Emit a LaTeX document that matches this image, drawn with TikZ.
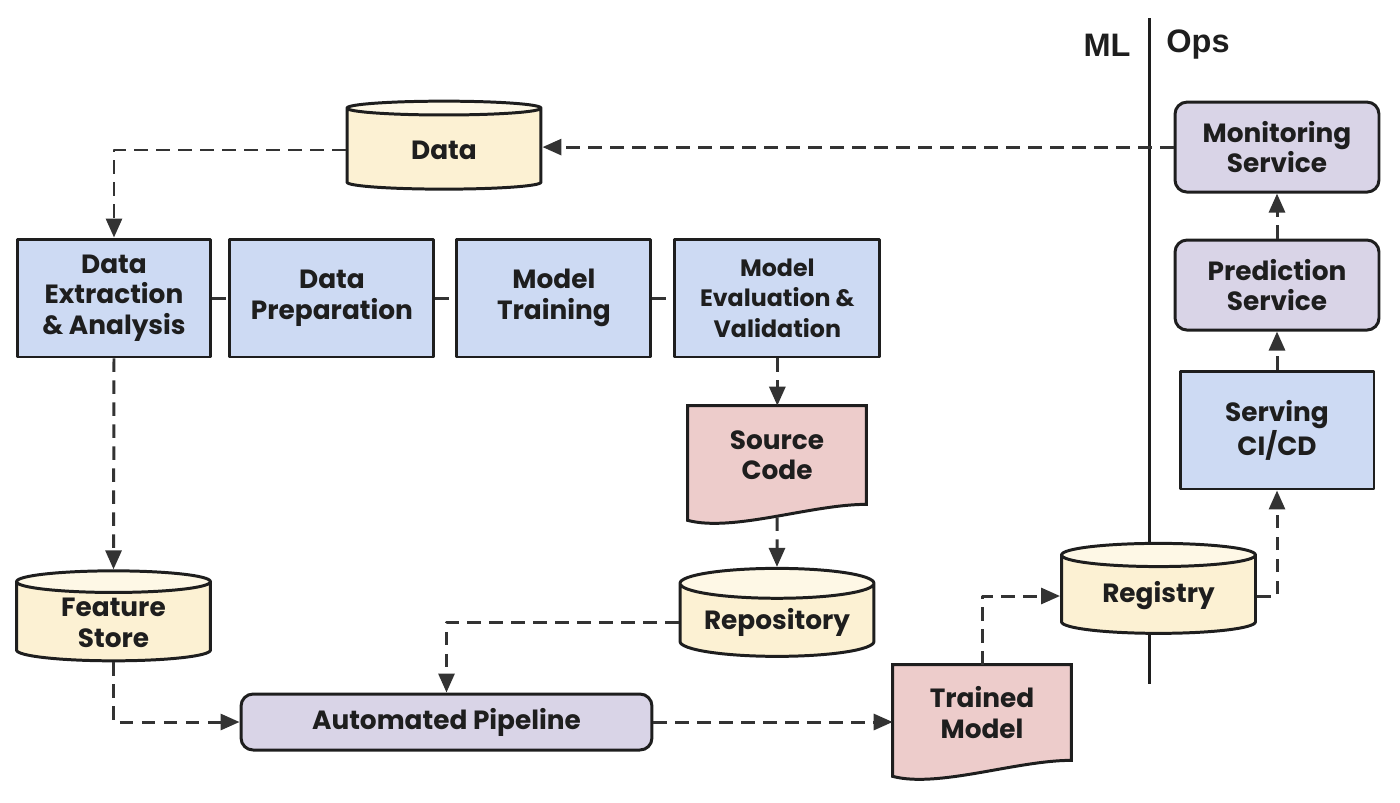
\documentclass[tikz,border=0pt]{standalone}
\usepackage{fontspec}
\setmainfont{Poppins}
\newfontfamily\headfont{Liberation Sans}
\usetikzlibrary{arrows.meta,positioning,shapes.geometric,calc,backgrounds}

\definecolor{procblue}{HTML}{CDDAF3}
\definecolor{storeyellow}{HTML}{FCF1D3}
\definecolor{storetop}{HTML}{FEF8E6}
\definecolor{docpink}{HTML}{EDCCCB}
\definecolor{svclav}{HTML}{D9D4E7}
\definecolor{inkline}{HTML}{1E1E1E}
\definecolor{flowline}{HTML}{333333}

% page-like outline with a wavy bottom edge, drawn behind a named node
\newcommand{\docwave}[2]{%
  \filldraw[draw=inkline,line width=1.7pt,fill=#2] (#1.north west) -- (#1.north east)
    -- (#1.south east) .. controls +(-55,0) and +(45,12) .. ($(#1.south west)+(0,16)$) -- cycle;}

\begin{document}
\begin{tikzpicture}[x=0.02cm,y=-0.02cm,line join=round,
    >={Triangle[length=0.38cm,width=0.32cm]},
    lbl/.style={font=\fontsize{15}{17.4}\selectfont\bfseries,align=center,text=inkline},
    flow/.style={->,dash pattern=on 0.27cm off 0.17cm,line width=1.7pt,draw=flowline},
    link/.style={dash pattern=on 0.27cm off 0.17cm,line width=1.7pt,draw=flowline},
    proc/.style={lbl,draw=inkline,line width=1.7pt,fill=procblue,
      minimum width=3.88cm,minimum height=2.36cm},
    svc/.style={lbl,draw=inkline,line width=1.7pt,fill=svclav,rounded corners=0.24cm,
      minimum width=4.08cm,minimum height=1.8cm},
    store/.style={lbl,cylinder,shape border rotate=90,aspect=0.2,draw=inkline,line width=1.7pt,
      cylinder uses custom fill,cylinder body fill=storeyellow,cylinder end fill=storetop,
      minimum width=3.88cm,minimum height=1.76cm,inner sep=1pt},
    doc/.style={lbl,minimum width=3.56cm,inner sep=1pt},
    side/.style={font=\headfont\fontsize{18.5}{21}\selectfont\bfseries,text=inkline}]
  \useasboundingbox (0,0) rectangle (1400,802);

  % ML | Ops divider
  \coordinate (divtop) at (1149,18);
  \coordinate (divbot) at (1149,684);
  \draw[line width=1.7pt,draw=inkline] (divtop) -- (divbot);
  \node[side] (ml) at (1107,45) {ML};
  \node[side] (ops) at (1198,45) {Ops};

  % ML side
  \node[store] (data) at (444,150) {Data};
  \node[proc] (de) at (114,298) {Data\\Extraction\\\& Analysis};
  \node[proc,minimum width=4.08cm] (dp) [right=0.32cm of de] {Data\\Preparation};
  \node[proc] (mt) [right=0.4cm of dp] {Model\\Training};
  \node[proc,minimum width=4.1cm,font=\fontsize{13.5}{17.4}\selectfont\bfseries]
    (mev) [right=0.42cm of mt] {Model\\Evaluation \&\\Validation};
  \node[doc,minimum height=1.96cm] (sc) at (777,455) {Source\\Code};
  \node[store] (repo) at (777,622) {Repository};
  \node[store,minimum height=1.8cm] (fs) at (113.5,623) {Feature\\Store};
  \node[svc,minimum width=8.22cm,minimum height=1.12cm] (ap) at (446.5,722) {Automated Pipeline};
  \node[doc,minimum height=1.9cm] (tm) at (982,712.5) {Trained\\Model};
  \node[store,minimum height=1.8cm] (reg) at (1158.5,596) {Registry};

  % Ops side
  \node[proc] (serv) at (1277,430) {Serving\\CI/CD};
  \node[svc] (pred) [above=0.76cm of serv] {Prediction\\Service};
  \node[svc] (mon) [above=0.9cm of pred] {Monitoring\\Service};

  \begin{pgfonlayer}{background}
    \docwave{sc}{docpink}
    \docwave{tm}{docpink}
  \end{pgfonlayer}
  \coordinate (scwave) at ($(sc.south)+(0,13)$);

  % flows
  \draw[flow] (mon.west) -- (mon.west -| data.east);
  \draw[flow] (data.west) -| (de.north);
  \draw[link] (de) -- (dp);
  \draw[link] (dp) -- (mt);
  \draw[link] (mt) -- (mev);
  \draw[flow] (mev.south) -- (mev.south |- sc.north);
  \draw[flow] (scwave) -- (repo.north);
  \draw[flow] (de.south) -- (fs.north);
  \draw[flow] (fs.south) |- (ap.west);
  \draw[flow] (repo.west) -| (ap.north);
  \draw[flow] (ap.east) -- (ap.east -| tm.west);
  \draw[flow] (tm.north) |- (reg.west);
  \draw[flow] (reg.east) -| (serv.south);
  \draw[flow] (serv.north) -- (pred.south);
  \draw[flow] (pred.north) -- (mon.south);
\end{tikzpicture}
\end{document}
